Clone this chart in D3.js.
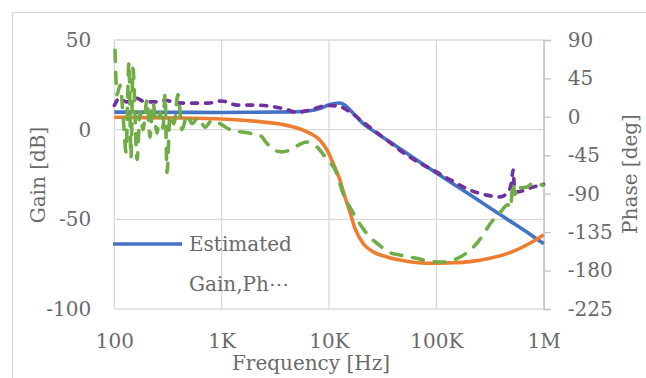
<!DOCTYPE html>
<html>
<head>
<meta charset="utf-8">
<script src="https://cdn.jsdelivr.net/npm/d3@7"></script>
<style>
  body { margin: 0; background: #fff; }
  text { font-family: "DejaVu Serif", serif; fill: #6a6a6a; }
</style>
</head>
<body>
<div id="chart"></div>
<script>
// x ticks (Hz) and their labels
const freqTicks = [100, 1e3, 1e4, 1e5, 1e6];
const freqLabels = ["100", "1K", "10K", "100K", "1M"];
const gainTicks = [50, 0, -50, -100];
const phaseTicks = [90, 45, 0, -45, -90, -135, -180, -225];

// [freq, dB] estimated gain (blue)
const estGain = [
  [100, 9.8], [300, 9.7], [1000, 9.6], [2000, 9.7], [4600, 9.9], [6600, 10.5],
  [8200, 11.8], [10200, 14.0], [12400, 14.9], [14100, 13.7], [15700, 10.9],
  [17500, 8.1], [20700, 3.5], [24100, 0.6], [34700, -5.8], [53000, -13.2],
  [100000, -24.2], [206000, -36.3], [316000, -43.7], [486000, -51.0],
  [745000, -58.3], [1000000, -63.6]
];
// [freq, deg] estimated phase (orange)
const estPhase = [
  [100, -0.5], [300, -1.2], [1000, -2.5], [2000, -5], [4600, -11.5], [6600, -19],
  [8200, -27], [9600, -39], [10900, -54], [12400, -71], [14100, -94], [15700, -112],
  [17500, -131], [20700, -148], [25700, -158], [34700, -164], [53000, -169],
  [87000, -171.5], [130000, -171], [206000, -169.5], [316000, -165.5],
  [486000, -159], [745000, -148], [1000000, -138]
];
// [freq, dB] measured gain (purple dashed)
const measGain = [
  [100, 13.5], [112, 17.5], [130, 15.5], [160, 17.5], [195, 15.5], [240, 15.5],
  [300, 16.4], [370, 15], [480, 14.8], [750, 14.8], [1000, 16], [1400, 13.7],
  [2000, 13.7], [2800, 13.1], [4000, 11.3], [5000, 9.6], [6600, 10.9], [9600, 13.5],
  [12400, 13], [15700, 9.9], [20700, 4.3], [34700, -5.9], [53000, -14.2],
  [70000, -18.7], [100000, -23.5], [135000, -28], [206000, -33.7], [294000, -36.5],
  [392000, -37.5], [455000, -35.4], [500000, -30], [518000, -22.5], [535000, -33],
  [564000, -34.7], [745000, -32.6], [920000, -31], [1000000, -30.5]
];
// [freq, deg] measured phase (green dashed)
const measPhase = [
  [101.5, 78], [106, 26], [113, 37], [123, -13], [128.5, -41], [137, 64], [143, -48],
  [149, 57], [163, -50], [173.5, 6], [185, -15], [202, 20], [215, -24], [229, 17],
  [250, -19], [266.5, 6], [284, -13], [297, 26], [310, -65], [330, 2], [360, -8],
  [392, 26], [427, -15], [476, 2], [530, -8], [602, -1], [700, -12], [813, -4],
  [966, -8], [1200, -15], [1800, -19], [2300, -22], [2600, -30], [3000, -38],
  [3600, -41], [4300, -39], [5200, -33], [6200, -29.5], [7700, -35], [9600, -50],
  [11400, -62], [12100, -70], [13200, -86], [16700, -112], [18200, -120],
  [24100, -141], [28000, -148], [37000, -159], [46000, -162], [70000, -166.5],
  [87000, -169.5], [115000, -170], [156000, -166], [239000, -148], [337000, -121],
  [392000, -112], [465000, -103], [490000, -107], [518000, -77.5], [540000, -91],
  [564000, -80], [600000, -83], [700000, -82], [794000, -78], [984000, -80]
];

const W = 646, H = 378;
const plot = {left: 114.3, right: 543.7, top: 40, bottom: 309};

const svg = d3.select("#chart").append("svg")
  .attr("width", W).attr("height", H);

// chart frame
svg.append("rect")
  .attr("x", 12.5).attr("y", 12.5).attr("width", 700).attr("height", 400)
  .attr("fill", "none").attr("stroke", "#d9d9d9").attr("stroke-width", 1.3);

const x = d3.scaleLog().domain([100, 1e6]).range([plot.left, plot.right]);
const yGain = d3.scaleLinear().domain([-100, 50]).range([plot.bottom, plot.top]);
const yPhase = d3.scaleLinear().domain([-225, 90]).range([plot.bottom, plot.top]);

// plain hyphen minus, like the original labels
const fmt = d => String(d);

// gridlines
svg.append("g").selectAll("line").data(gainTicks).enter().append("line")
  .attr("x1", plot.left).attr("x2", plot.right)
  .attr("y1", d => yGain(d)).attr("y2", d => yGain(d))
  .attr("stroke", "#d9d9d9").attr("stroke-width", 1.3);
svg.append("g").selectAll("line").data(freqTicks).enter().append("line")
  .attr("x1", d => x(d)).attr("x2", d => x(d))
  .attr("y1", plot.top).attr("y2", plot.bottom)
  .attr("stroke", "#d9d9d9").attr("stroke-width", 1.3);

// left axis
const gAxisL = svg.append("g")
  .attr("transform", "translate(" + plot.left + ",0)")
  .call(d3.axisLeft(yGain).tickValues(gainTicks).tickFormat(fmt).tickSize(0).tickPadding(23));
gAxisL.select(".domain").remove();

// right axis
const gAxisR = svg.append("g")
  .attr("transform", "translate(" + plot.right + ",0)")
  .call(d3.axisRight(yPhase).tickValues(phaseTicks).tickFormat(fmt).tickSize(7).tickPadding(17));
gAxisR.select(".domain").attr("stroke", "#c4c4c4").attr("stroke-width", 1.3);
gAxisR.selectAll(".tick line").attr("stroke", "#c4c4c4").attr("stroke-width", 1.3);

// bottom axis
const gAxisB = svg.append("g")
  .attr("transform", "translate(0," + plot.bottom + ")")
  .call(d3.axisBottom(x).tickValues(freqTicks)
    .tickFormat((d, i) => freqLabels[i]).tickSize(0).tickPadding(25));
gAxisB.select(".domain").remove();

svg.selectAll(".tick text")
  .attr("font-family", "DejaVu Serif, serif").attr("font-size", 20)
  .attr("fill", "#6a6a6a");

// axis titles
svg.append("text")
  .attr("transform", "translate(45,175) rotate(-90)")
  .attr("text-anchor", "middle").attr("font-size", 20)
  .text("Gain [dB]");
svg.append("text")
  .attr("transform", "translate(637,174) rotate(-90)")
  .attr("text-anchor", "middle").attr("font-size", 20)
  .text("Phase [deg]");
svg.append("text")
  .attr("x", 311).attr("y", 370)
  .attr("text-anchor", "middle").attr("font-size", 20)
  .text("Frequency [Hz]");

// series
const lineGain = d3.line().x(d => x(d[0])).y(d => yGain(d[1])).curve(d3.curveMonotoneX);
const linePhase = d3.line().x(d => x(d[0])).y(d => yPhase(d[1])).curve(d3.curveMonotoneX);

svg.append("path").datum(estGain).attr("d", lineGain)
  .attr("fill", "none").attr("stroke", "#4472C4").attr("stroke-width", 3.6);
svg.append("path").datum(estPhase).attr("d", linePhase)
  .attr("fill", "none").attr("stroke", "#ED7D31").attr("stroke-width", 3.6);
svg.append("path").datum(measGain).attr("d", lineGain)
  .attr("fill", "none").attr("stroke", "#7030A0").attr("stroke-width", 3.6)
  .attr("stroke-dasharray", "6,8").attr("stroke-linecap", "round");
svg.append("path").datum(measPhase).attr("d", linePhase)
  .attr("fill", "none").attr("stroke", "#70AD47").attr("stroke-width", 3.6)
  .attr("stroke-dasharray", "11,11").attr("stroke-linecap", "round");

// legend (truncated, as in the original)
svg.append("line")
  .attr("x1", 113).attr("x2", 182).attr("y1", 244).attr("y2", 244)
  .attr("stroke", "#4472C4").attr("stroke-width", 3.6);
svg.append("text").attr("x", 189).attr("y", 251).attr("font-size", 20).text("Estimated");
svg.append("text").attr("x", 189).attr("y", 291).attr("font-size", 20).text("Gain,Ph\u22EF");
</script>
</body>
</html>
